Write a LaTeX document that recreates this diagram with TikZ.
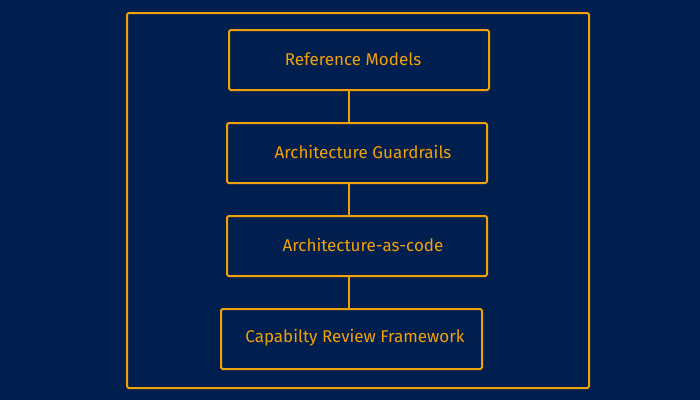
\documentclass[tikz,border=0pt]{standalone}
\usepackage{fontspec}
\setmainfont{Fira Sans}
\definecolor{bg}{HTML}{001F4F}
\definecolor{org}{HTML}{F0A00A}
\begin{document}
\begin{tikzpicture}[x=1pt,y=-1pt,
  box/.style={draw=org,line width=2pt,rounded corners=1.5pt},
  lbl/.style={text=org,font=\fontsize{17}{20}\selectfont},
  conn/.style={draw=org,line width=2pt}]
\fill[bg] (0,0) rectangle (700,400);
\useasboundingbox (0,0) rectangle (700,400);
\draw[box] (127,13) rectangle (589,388);
\draw[box] (229,30) rectangle (489,90);
\draw[box] (227,123) rectangle (487,183);
\draw[box] (227,216) rectangle (487,276);
\draw[box] (221,309) rectangle (482,369);
\node[lbl] (a) at (353,59) {Reference Models};
\node[lbl] (b) at (363,152) {Architecture Guardrails};
\node[lbl] (c) at (363,245) {Architecture-as-code};
\node[lbl] (d) at (355,338) {Capabilty Review Framework};
\coordinate (a1) at (349,90); \coordinate (b0) at (349,123);
\coordinate (b1) at (349,183); \coordinate (c0) at (349,216);
\coordinate (c1) at (349,276); \coordinate (d0) at (349,309);
\draw[conn] (a1) -- (b0);
\draw[conn] (b1) -- (c0);
\draw[conn] (c1) -- (d0);
\end{tikzpicture}
\end{document}
